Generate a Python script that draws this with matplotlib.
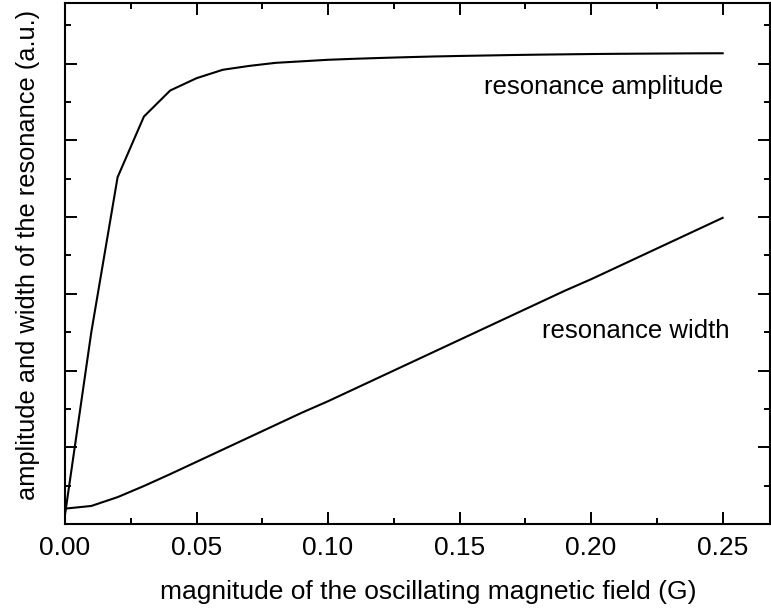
import matplotlib.pyplot as plt
import numpy as np
from matplotlib.ticker import MultipleLocator

plt.rcParams['font.family'] = ['Liberation Sans', 'DejaVu Sans']

# field magnitude (G) and the two measured curves (arbitrary units)
field = np.round(np.arange(0, 0.2501, 0.01), 2)
amplitude = [0.12, 2.50, 4.52, 5.31, 5.65, 5.81, 5.92, 5.97, 6.01, 6.03,
             6.05, 6.063, 6.074, 6.084, 6.093, 6.10, 6.106, 6.112, 6.117, 6.121,
             6.125, 6.128, 6.13, 6.132, 6.134, 6.135]
width = [0.20, 0.235, 0.35, 0.495, 0.65, 0.81, 0.97, 1.13, 1.29, 1.45,
         1.60, 1.76, 1.92, 2.08, 2.24, 2.40, 2.56, 2.72, 2.88, 3.04,
         3.19, 3.35, 3.51, 3.67, 3.83, 3.99]

fig = plt.figure(figsize=(7.71, 6.14), dpi=100)
ax = fig.add_axes([0.0843, 0.1466, 0.9144, 0.8485])

ax.plot(field, amplitude, color='black', lw=1.5)
ax.plot(field, width, color='black', lw=1.5)

ax.text(0.2502, 5.70, 'resonance amplitude', ha='right', va='center', fontsize=18.5)
ax.text(0.2525, 2.51, 'resonance width', ha='right', va='center', fontsize=18.5)

ax.set_xlim(0, 0.268)
ax.set_ylim(0, 6.79)
ax.xaxis.set_major_locator(MultipleLocator(0.05))
ax.xaxis.set_minor_locator(MultipleLocator(0.025))
ax.yaxis.set_major_locator(MultipleLocator(1))
ax.yaxis.set_minor_locator(MultipleLocator(0.5))
ax.xaxis.set_major_formatter(plt.FormatStrFormatter('%.2f'))
ax.set_yticklabels([])

ax.tick_params(which='both', direction='in', top=True, right=True, width=1.4)
ax.tick_params(which='major', length=8.5, labelsize=19, pad=9)
ax.tick_params(which='minor', length=4.5)
for s in ax.spines.values():
    s.set_linewidth(1.5)

ax.set_xlabel('magnitude of the oscillating magnetic field (G)', fontsize=19, labelpad=14)
ax.set_ylabel('amplitude and width of the resonance (a.u.)', fontsize=18.3, labelpad=9)
ax.xaxis.label.set_x(0.515)
ax.yaxis.label.set_y(0.516)

fig.savefig('out.png', dpi=100)
